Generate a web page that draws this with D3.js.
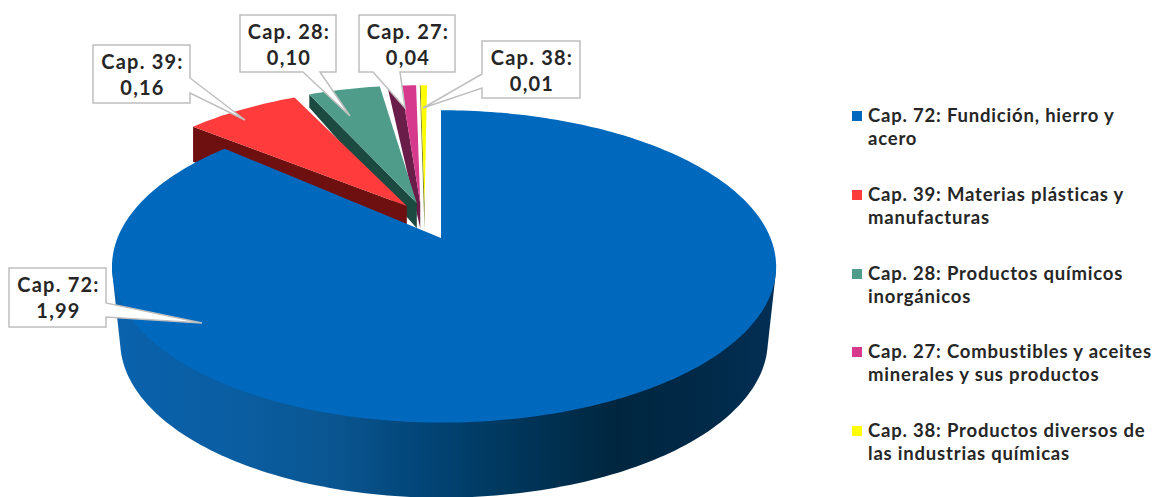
<!DOCTYPE html>
<html>
<head>
<meta charset="utf-8">
<script src="https://cdnjs.cloudflare.com/ajax/libs/d3/7.8.5/d3.min.js"></script>
<style>
  html, body { margin: 0; padding: 0; background: #fff; }
  svg { display: block; }
  text { font-family: Lato, sans-serif; font-weight: 700; fill: #262626; }
</style>
</head>
<body>
<div id="graph"></div>
<script>
var chapters = ["Cap. 72", "Cap. 39", "Cap. 28", "Cap. 27", "Cap. 38"];
var values = [1.99, 0.16, 0.10, 0.04, 0.01];
var legendLines = [
  ["Fundición, hierro y", "acero"],
  ["Materias plásticas y", "manufacturas"],
  ["Productos químicos", "inorgánicos"],
  ["Combustibles y aceites", "minerales y sus productos"],
  ["Productos diversos de", "las industrias químicas"]
];
var topColors = ["#0069bd", "#ff3b3b", "#4f9c8b", "#d63a8c", "#ffff00"];
var sideColors = ["#004a85", "#6f1010", "#1c4a40", "#6b1d4a", "#77771a"];

// layout of the tilted pie, not data
var width = 1158, height = 497;
var cx = 441, cy = 238;
var aLeft = 323.5, aRight = 329.5, b = 151, k = 0.182;
var depth = 75, bottomScale = 0.975;

// how far each slice is pulled out, in pie-plane units
var pullX = [0, -0.11, -0.078, -0.067, -0.053];
var pullY = [0, -0.22, -0.24, -0.24, -0.24];
var turn = [0, -2.3, -1, 0, 0]; // degrees
var depthOuter = [0, 35, 13, 0, 0];
var depthInner = [0, 35, 25, 25, 28];
var faceShare = [0, 0, 0, 0.48, 0.12];

var callouts = [
  {x: 9, y: 268, w: 97, h: 59, base: [[106, 303], [106, 317]], tip: [202, 323]},
  {x: 93, y: 45, w: 97, h: 58, base: [[190, 78], [190, 93]], tip: [245, 120]},
  {x: 240, y: 15, w: 96, h: 57, base: [[320, 72], [303, 72]], tip: [350, 116]},
  {x: 359, y: 15, w: 96, h: 57, base: [[400, 72], [373, 72]], tip: [405, 108]},
  {x: 482, y: 41, w: 98, h: 57, base: [[482, 74], [482, 88]], tip: [423, 108]}
];
var legendY = [116, 195, 274, 352, 431];

var svg = d3.select("#graph").append("svg")
  .attr("width", width)
  .attr("height", height);

var grad = svg.append("defs").append("linearGradient")
  .attr("id", "blueSide")
  .attr("gradientUnits", "userSpaceOnUse")
  .attr("x1", 112).attr("x2", 776).attr("y1", 0).attr("y2", 0);
[[0, "#0a62ad"], [0.2, "#0a5da0"], [0.34, "#0a5590"], [0.45, "#03477b"], [0.57, "#003a62"], [0.76, "#00263f"], [0.9, "#012a49"], [1, "#032f55"]]
  .forEach(function(s){
    grad.append("stop").attr("offset", s[0]).attr("stop-color", s[1]);
  });

// pie plane to screen, back of the pie is squeezed by the perspective
function project(X, Y){
  var den = 1 - k * Y;
  return [cx + (X < 0 ? aLeft : aRight) * X / den, cy + b * Y / den];
}
function onRim(angle, i){
  var a = angle + turn[i] * Math.PI / 180;
  return project(Math.sin(a) + pullX[i], -Math.cos(a) + pullY[i]);
}
function lower(p){
  return [cx + (p[0] - cx) * bottomScale, p[1] + depth];
}
function rim(a0, a1, i){
  var n = Math.max(2, Math.ceil((a1 - a0) / 0.02));
  return d3.range(n + 1).map(function(j){
    return onRim(a0 + (a1 - a0) * j / n, i);
  });
}

var pie = d3.pie().sort(null).value(function(d){ return d; });
var slices = pie(values);
var line = d3.line();
var chart = svg.append("g");

// small slices first, back to front, big one goes over them
[4, 3, 2, 1].forEach(function(i){
  var s = slices[i];
  var a0 = s.startAngle + (s.endAngle - s.startAngle) * faceShare[i];
  var apex = project(pullX[i], pullY[i]);
  var corner = onRim(s.startAngle, i);
  var drawnCorner = onRim(a0, i);
  chart.append("path")
    .attr("d", line([
      drawnCorner, apex,
      [apex[0], apex[1] + depthInner[i]],
      [corner[0], corner[1] + depthOuter[i]],
      corner
    ]) + "Z")
    .attr("fill", sideColors[i]);
  chart.append("path")
    .attr("d", line(rim(a0, s.endAngle, i).concat([apex])) + "Z")
    .attr("fill", topColors[i]);
});

// the wall is the hull of the front part of the rim and its lowered copy
// rim range stops at the widest points so the hull stays under the notch
var bigRim = rim(slices[0].startAngle, slices[0].endAngle, 0);
var frontRim = rim(Math.PI * 0.55, Math.PI * 1.45, 0);
var wall = d3.polygonHull(frontRim.concat(frontRim.map(lower)));
chart.append("path")
  .attr("d", line(wall) + "Z")
  .attr("fill", "url(#blueSide)");
chart.append("path")
  .attr("d", line(bigRim.concat([project(0, 0)])) + "Z")
  .attr("fill", topColors[0]);

// callouts
var fmt = d3.formatLocale({decimal: ",", thousands: ".", grouping: [3], currency: ["", ""]}).format(".2f");
callouts.forEach(function(c, i){
  var x0 = c.x, y0 = c.y, x1 = c.x + c.w, y1 = c.y + c.h;
  var pts;
  if (c.base[0][0] === x1 && c.base[1][0] === x1) {
    pts = [[x0, y0], [x1, y0], c.base[0], c.tip, c.base[1], [x1, y1], [x0, y1]];
  } else if (c.base[0][0] === x0) {
    pts = [[x0, y0], [x1, y0], [x1, y1], [x0, y1], c.base[1], c.tip, c.base[0]];
  } else {
    pts = [[x0, y0], [x1, y0], [x1, y1], c.base[0], c.tip, c.base[1], [x0, y1]];
  }
  svg.append("path")
    .attr("d", line(pts) + "Z")
    .attr("fill", "#fff")
    .attr("stroke", "#bfbfbf")
    .attr("stroke-width", 1.5);
  svg.append("text")
    .attr("x", x0 + c.w / 2 + 1).attr("y", y0 + 24)
    .attr("text-anchor", "middle")
    .attr("font-size", 20).attr("letter-spacing", 1.2)
    .text(chapters[i] + ":");
  svg.append("text")
    .attr("x", x0 + c.w / 2 + 1).attr("y", y0 + 50)
    .attr("text-anchor", "middle")
    .attr("font-size", 20).attr("letter-spacing", 1.2)
    .text(fmt(values[i]));
});

// legend
var legend = svg.append("g").selectAll("g")
  .data(chapters)
  .enter().append("g");
legend.append("rect")
  .attr("x", 852)
  .attr("y", function(d, i){ return legendY[i] - 5; })
  .attr("width", 10).attr("height", 10)
  .attr("fill", function(d, i){ return topColors[i]; });
legend.append("text")
  .attr("x", 868)
  .attr("y", function(d, i){ return legendY[i] + 6; })
  .attr("font-size", 18.5).attr("letter-spacing", 0.8)
  .text(function(d, i){ return d + ": " + legendLines[i][0]; });
legend.append("text")
  .attr("x", 868)
  .attr("y", function(d, i){ return legendY[i] + 29; })
  .attr("font-size", 18.5).attr("letter-spacing", 0.8)
  .text(function(d, i){ return legendLines[i][1]; });
</script>
</body>
</html>
